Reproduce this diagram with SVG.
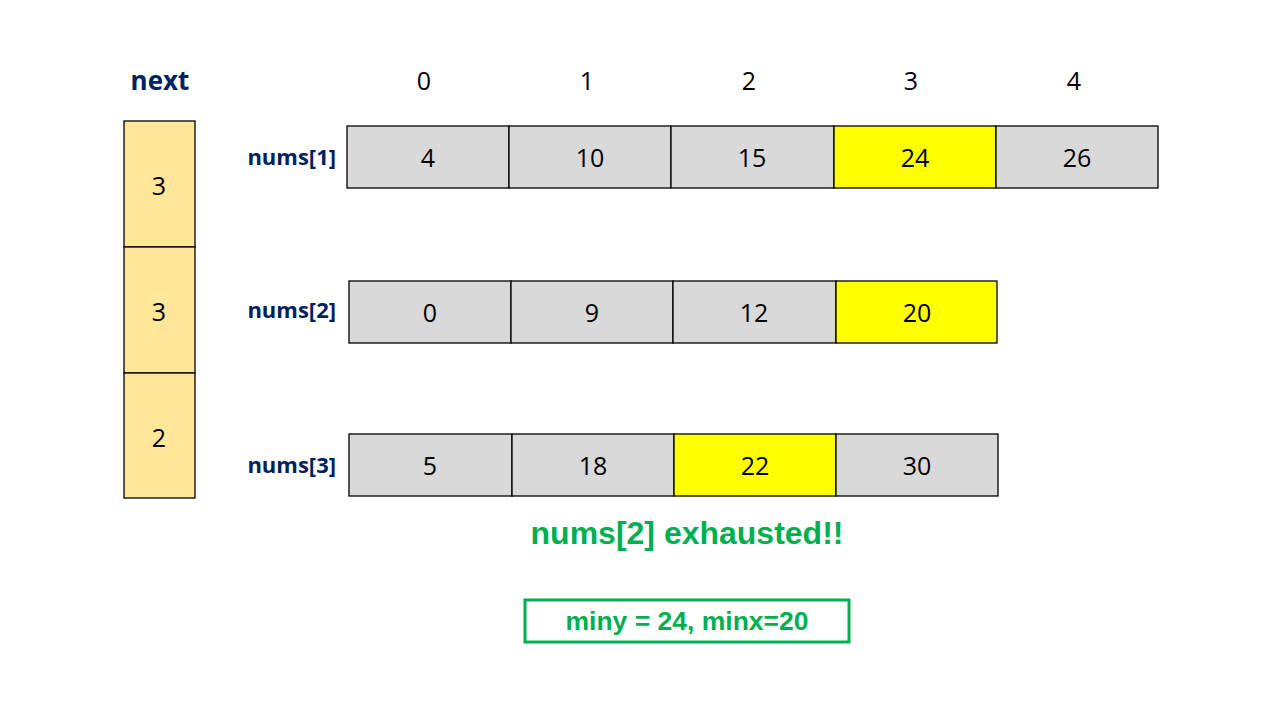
<svg xmlns="http://www.w3.org/2000/svg" width="1280" height="720" viewBox="0 0 1280 720">
<style>
.cell{fill:#D9D9D9;stroke:#000;stroke-width:1.3}
.hl{fill:#FFFF00;stroke:#000;stroke-width:1.3}
.nx{fill:#FFE699;stroke:#000;stroke-width:1.3}
.num{font-family:"Open Sans","Noto Sans",sans-serif;font-size:25px;fill:#000;text-anchor:middle;dominant-baseline:central}
.idx{font-family:"Open Sans","Noto Sans",sans-serif;font-size:25px;fill:#000;text-anchor:middle;dominant-baseline:central}
.lbl{font-family:"Open Sans","Noto Sans",sans-serif;font-size:22px;font-weight:bold;fill:#002060;text-anchor:end;dominant-baseline:central}
.grn{font-family:"Liberation Sans",Arial,sans-serif;font-weight:bold;fill:#00B050;text-anchor:middle;dominant-baseline:central}
</style>
<rect width="1280" height="720" fill="#fff"/>
<g id="next">
<text x="160" y="80" class="lbl" style="text-anchor:middle;font-size:26px">next</text>
<rect x="124" y="121" width="71" height="126" class="nx"/>
<rect x="124" y="247" width="71" height="126" class="nx"/>
<rect x="124" y="373" width="71" height="125" class="nx"/>
<text x="159" y="185" class="num">3</text>
<text x="159" y="311" class="num">3</text>
<text x="159" y="437" class="num">2</text>
</g>
<g id="indices">
<text x="424" y="80" class="idx">0</text>
<text x="587" y="80" class="idx">1</text>
<text x="749" y="80" class="idx">2</text>
<text x="911" y="80" class="idx">3</text>
<text x="1074" y="80" class="idx">4</text>
</g>
<g id="nums1">
<text x="336" y="156" class="lbl">nums[1]</text>
<rect x="347" y="126" width="162" height="62" class="cell"/>
<rect x="509" y="126" width="162" height="62" class="cell"/>
<rect x="671" y="126" width="163" height="62" class="cell"/>
<rect x="834" y="126" width="162" height="62" class="hl"/>
<rect x="996" y="126" width="162" height="62" class="cell"/>
<text x="428" y="157" class="num">4</text>
<text x="590" y="157" class="num">10</text>
<text x="752" y="157" class="num">15</text>
<text x="915" y="157" class="num">24</text>
<text x="1077" y="157" class="num">26</text>
</g>
<g id="nums2">
<text x="336" y="309" class="lbl">nums[2]</text>
<rect x="349" y="281" width="162" height="62" class="cell"/>
<rect x="511" y="281" width="162" height="62" class="cell"/>
<rect x="673" y="281" width="163" height="62" class="cell"/>
<rect x="836" y="281" width="161" height="62" class="hl"/>
<text x="430" y="312" class="num">0</text>
<text x="592" y="312" class="num">9</text>
<text x="754" y="312" class="num">12</text>
<text x="917" y="312" class="num">20</text>
</g>
<g id="nums3">
<text x="336" y="464" class="lbl">nums[3]</text>
<rect x="349" y="434" width="163" height="62" class="cell"/>
<rect x="512" y="434" width="162" height="62" class="cell"/>
<rect x="674" y="434" width="162" height="62" class="hl"/>
<rect x="836" y="434" width="162" height="62" class="cell"/>
<text x="430" y="465" class="num">5</text>
<text x="593" y="465" class="num">18</text>
<text x="755" y="465" class="num">22</text>
<text x="917" y="465" class="num">30</text>
</g>
<g id="status">
<text x="687" y="533" class="grn" font-size="32">nums[2] exhausted!!</text>
</g>
<g id="result">
<rect x="525" y="600" width="324" height="42" fill="none" stroke="#00B050" stroke-width="3"/>
<text x="687" y="621" class="grn" font-size="26.5">miny = 24, minx=20</text>
</g>
<g id="connectors"></g>
</svg>
